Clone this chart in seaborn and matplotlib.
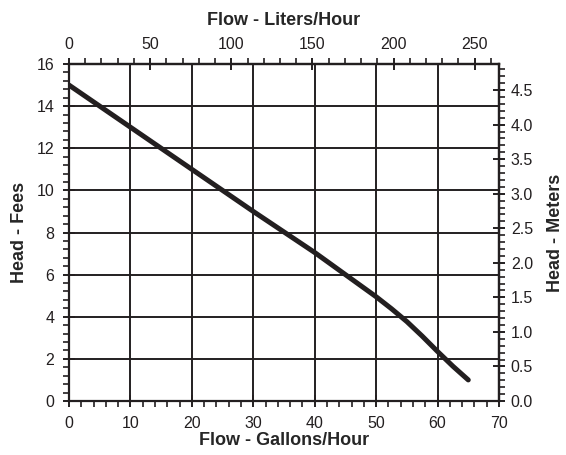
import numpy as np
import pandas as pd
import matplotlib
matplotlib.use("Agg")
import matplotlib.pyplot as plt
import seaborn as sns
from matplotlib.ticker import MultipleLocator

# Curva della pompa
flow_gph = [0, 10, 20, 30, 40, 45, 50, 52.5, 55, 57.5, 60, 62.5, 65]
head_ft = [15.0, 13.0, 11.0, 9.0, 7.05, 6.0, 4.95, 4.38, 3.77, 3.08, 2.35, 1.65, 1.0]

GAL_TO_L = 3.785
FT_TO_M = 0.3048

df = pd.DataFrame({'gph': flow_gph, 'ft': head_ft})

sns.set_style('ticks')
plt.rcParams['font.family'] = ['Liberation Sans', 'DejaVu Sans']
plt.rcParams['axes.linewidth'] = 1.6

fig = plt.figure(figsize=(5.66, 4.55), dpi=100)
ax = fig.add_axes([0.1219, 0.1187, 0.7597, 0.7406])

sns.lineplot(data=df, x='gph', y='ft', ax=ax, color='#231f20', linewidth=3.6,
             solid_capstyle='round')

ax.set_xlim(0, 70)
ax.set_ylim(0, 16)
ax.xaxis.set_major_locator(MultipleLocator(10))
ax.xaxis.set_minor_locator(MultipleLocator(2))
ax.yaxis.set_major_locator(MultipleLocator(2))
ax.yaxis.set_minor_locator(MultipleLocator(0.4))
ax.grid(True, which='major', color='#231f20', linewidth=1.4)
ax.set_axisbelow(True)

for s in ax.spines.values():
    s.set_color('#231f20')
    s.set_linewidth(1.6)

TICK_FS = 11.5
LAB_FS = 13

ax.tick_params(which='major', direction='inout', length=9, width=1.4, labelsize=TICK_FS, colors='#231f20', pad=6)
ax.tick_params(which='minor', direction='out', length=4, width=1.2, colors='#231f20')

ax.set_xlabel('Flow - Gallons/Hour', fontsize=LAB_FS, fontweight='bold', labelpad=1)
ax.set_ylabel('Head - Fees', fontsize=LAB_FS, fontweight='bold', labelpad=6)

# asse superiore: litri/ora
top = ax.secondary_xaxis('top', functions=(lambda g: g * GAL_TO_L, lambda l: l / GAL_TO_L))
top.xaxis.set_major_locator(MultipleLocator(50))
top.xaxis.set_minor_locator(MultipleLocator(10))
top.tick_params(which='major', direction='inout', length=9, width=1.4, labelsize=TICK_FS, colors='#231f20', pad=4)
top.tick_params(which='minor', direction='out', length=4, width=1.2, colors='#231f20')
top.set_xlabel('Flow - Liters/Hour', fontsize=LAB_FS, fontweight='bold', labelpad=9)
top.spines['top'].set_linewidth(1.6)

# asse destro: metri
right = ax.secondary_yaxis('right', functions=(lambda f: f * FT_TO_M, lambda m: m / FT_TO_M))
right.yaxis.set_major_locator(MultipleLocator(0.5))
right.yaxis.set_minor_locator(MultipleLocator(0.1))
right.yaxis.set_major_formatter(lambda v, p: f'{v:.1f}')
right.tick_params(which='major', direction='inout', length=9, width=1.4, labelsize=TICK_FS, colors='#231f20', pad=4)
right.tick_params(which='minor', direction='out', length=4, width=1.2, colors='#231f20')
right.set_ylabel('Head - Meters', fontsize=LAB_FS, fontweight='bold', labelpad=10)
right.spines['right'].set_linewidth(1.6)

fig.savefig('out.png', dpi=100)
